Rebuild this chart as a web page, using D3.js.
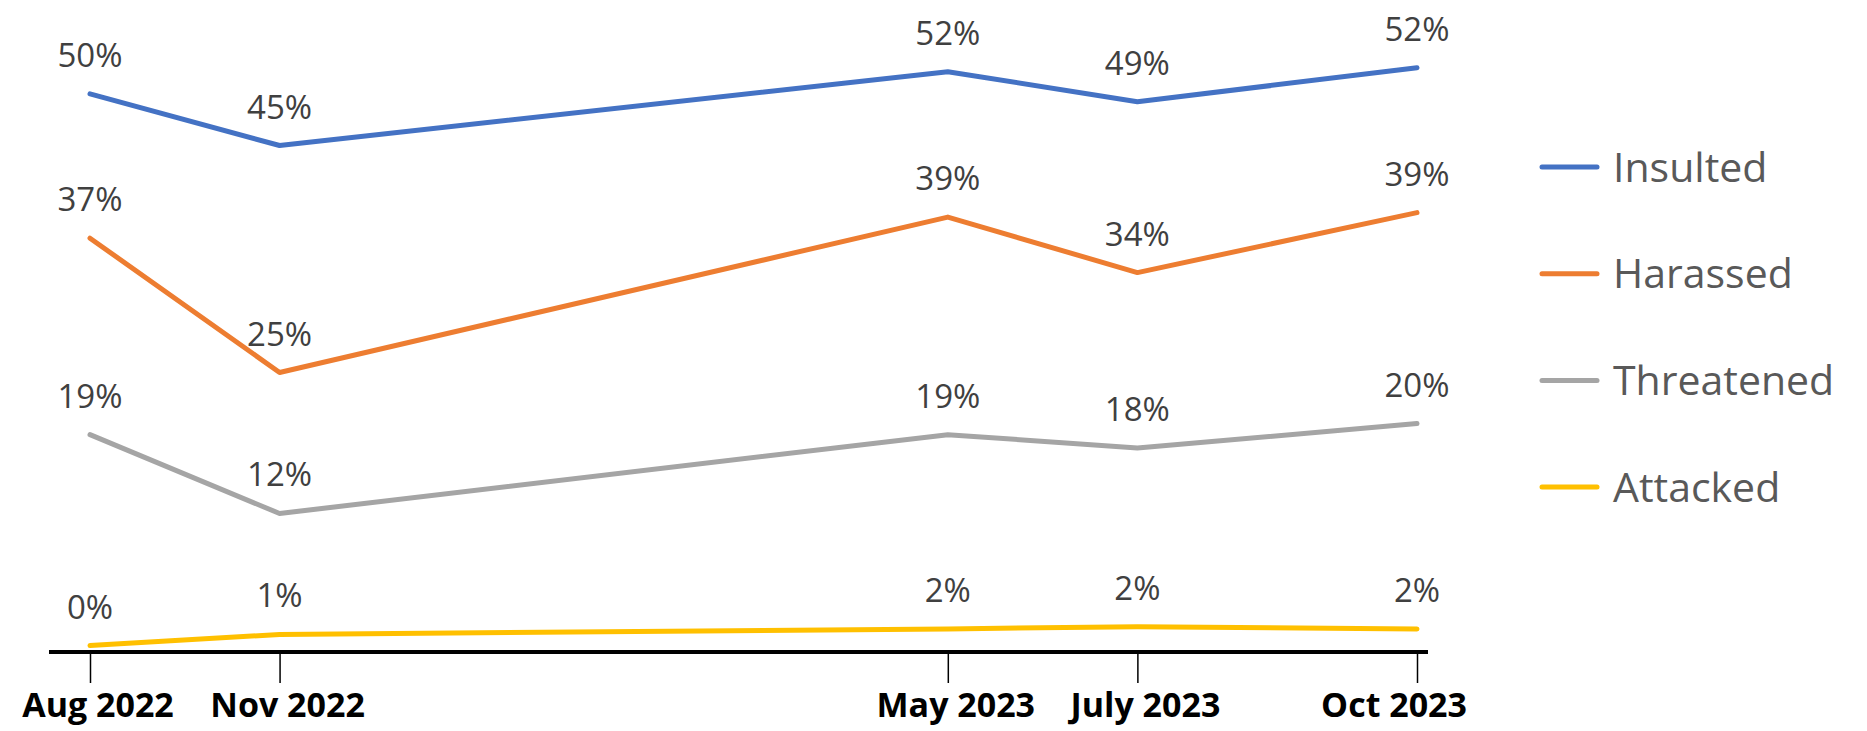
<!DOCTYPE html>
<meta charset="utf-8">
<script src="https://d3js.org/d3.v7.min.js"></script>
<style>
  body { margin: 0; background: #fff; }
  text { font-family: "Open Sans", sans-serif; }
</style>
<div id="chart"></div>
<script>

// survey waves (x = months after Aug 2022, as spaced in the chart)
var waves = ["Aug 2022", "Nov 2022", "May 2023", "July 2023", "Oct 2023"];
var waveMonths = [0, 2, 9.05, 11.05, 14];

var seriesNames = ["Insulted", "Harassed", "Threatened", "Attacked"];
var insulted   = [50.1, 45.45, 52.1, 49.4, 52.45];
var harassed   = [37.1, 25.0, 39.0, 34.0, 39.4];
var threatened = [19.4, 12.3, 19.4, 18.2, 20.4];
var attacked   = [0.4, 1.4, 1.9, 2.1, 1.9];
var colors = ["#4472C4", "#ED7D31", "#A5A5A5", "#FFC000"];

var W = 1867, H = 731;

var svg = d3.select("#chart")
  .append("svg")
    .attr("width", W)
    .attr("height", H);

var x = d3.scaleLinear()
  .domain([0, 14])
  .range([90, 1417]);

var y = d3.scaleLinear()
  .domain([0, 50])
  .range([650, 95]);

var series = [insulted, harassed, threatened, attacked].map(function(vals, i) {
  return {
    name: seriesNames[i],
    color: colors[i],
    values: vals.map(function(v, j) { return {m: waveMonths[j], v: v}; })
  };
});

// x axis
var axisY = 652;
var xAxis = svg.append("g")
  .attr("transform", "translate(0," + axisY + ")")
  .call(d3.axisBottom(x).tickValues(waveMonths).tickSize(31).tickFormat(""));
xAxis.select(".domain").remove();
xAxis.selectAll(".tick line").attr("stroke", "#000").attr("stroke-width", 1.5);

svg.append("line")
  .attr("x1", 49).attr("x2", 1428)
  .attr("y1", axisY).attr("y2", axisY)
  .attr("stroke", "#000")
  .attr("stroke-width", 4);

svg.selectAll(".xlab")
  .data(waves)
  .enter().append("text")
    .attr("class", "xlab")
    .attr("x", function(d, i) { return i == waves.length - 1 ? x(waveMonths[i]) + 50 : x(waveMonths[i]) + 8; })
    .attr("y", 717)
    .attr("text-anchor", function(d, i) { return i == waves.length - 1 ? "end" : "middle"; })
    .style("font-size", "34px")
    .style("font-weight", "bold")
    .attr("fill", "#000")
    .text(function(d) { return d; });

// lines
var line = d3.line()
  .x(function(d) { return x(d.m); })
  .y(function(d) { return y(d.v); });

svg.selectAll(".series")
  .data(series)
  .enter().append("path")
    .attr("class", "series")
    .attr("fill", "none")
    .attr("stroke", function(d) { return d.color; })
    .attr("stroke-width", 5)
    .attr("stroke-linecap", "round")
    .attr("stroke-linejoin", "round")
    .attr("d", function(d) { return line(d.values); });

// data labels
series.forEach(function(s) {
  svg.selectAll(null)
    .data(s.values)
    .enter().append("text")
      .attr("x", function(d) { return x(d.m); })
      .attr("y", function(d) { return y(d.v) - 27; })
      .attr("text-anchor", "middle")
      .style("font-size", "33px")
      .attr("fill", "#404040")
      .text(function(d) { return Math.round(d.v) + "%"; });
});

// legend
var legend = svg.selectAll(".legend")
  .data(series)
  .enter().append("g")
    .attr("class", "legend")
    .attr("transform", function(d, i) { return "translate(1542," + (167 + i * 106.7) + ")"; });

legend.append("line")
  .attr("x1", 0).attr("x2", 55)
  .attr("stroke", function(d) { return d.color; })
  .attr("stroke-width", 5)
  .attr("stroke-linecap", "round");

legend.append("text")
  .attr("x", 71)
  .attr("dy", "0.36em")
  .style("font-size", "41px")
  .attr("fill", "#595959")
  .text(function(d) { return d.name; });

</script>
